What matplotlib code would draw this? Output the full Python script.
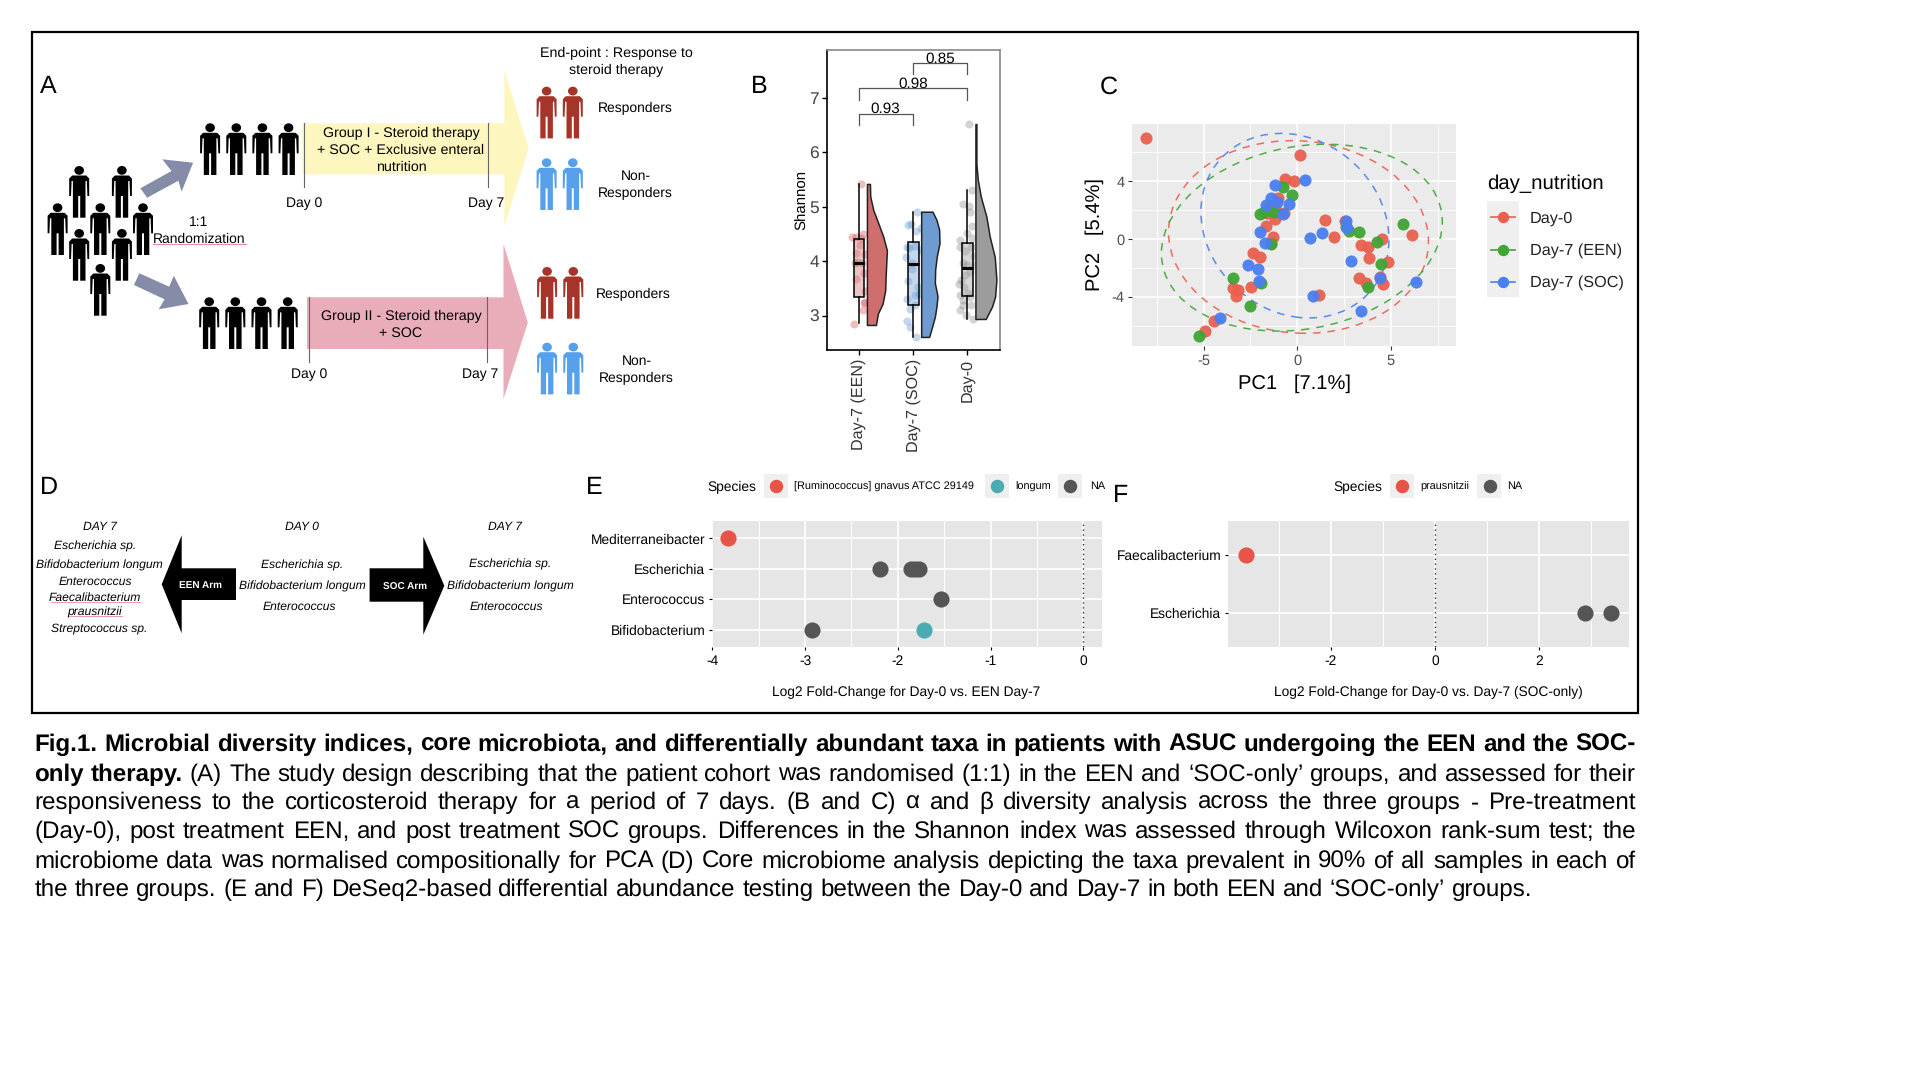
import matplotlib
matplotlib.use("Agg")
import matplotlib.pyplot as plt
from matplotlib.patches import Circle, Ellipse, Polygon, Rectangle
from matplotlib.transforms import Affine2D
import numpy as np

plt.rcParams['font.family'] = ['Liberation Sans', 'DejaVu Sans']
plt.rcParams['axes.unicode_minus'] = False
plt.rcParams['text.hinting'] = 'no_hinting'

# ---- panel B data (Shannon)
groups = ["Day-7 (EEN)", "Day-7 (SOC)", "Day-0"]
een_jit_x = [.04, -.12, -.06, .07, .03, -.06, .11, -.04, .05, -.06, .10, .12, .11, .08, -.09, .09, -.07, .02]
een_jit_y = [5.42, 4.45, 4.44, 4.50, 4.42, 4.16, 4.13, 3.99, 3.96, 3.67, 3.78, 3.45, 3.26, 3.10, 2.84, 3.24, 3.96, 4.30]
soc_jit_x = [.07, -.09, -.05, .14, .06, -.12, -.08, .03, .15, -.14, -.02, -.10, .09, -.12, .03, .11, -.06, .04, -.12, -.06, .06, -.03]
soc_jit_y = [4.91, 4.67, 4.68, 4.61, 4.55, 4.26, 4.24, 4.28, 4.21, 4.08, 3.85, 3.63, 3.53, 3.31, 3.38, 3.39, 3.12, 3.20, 2.90, 2.80, 2.61, 3.96]
day0_jit_x = [.02, .09, -.08, .03, .04, .08, -.01, .09, -.13, -.14, .07, -.04, .12, -.08, -.01, .13, .04, -.05, -.11, -.16,
              -.07, -.14, .01, -.09, .07, -.14, -.09, .10, -.02, .04]
day0_jit_y = [6.52, 5.31, 5.06, 5.02, 4.91, 4.65, 4.52, 4.42, 4.39, 4.26, 4.27, 4.18, 4.09, 3.96, 3.93, 3.94, 3.81, 3.75, 3.66, 3.58,
              3.53, 3.38, 3.41, 3.28, 3.20, 3.10, 3.20, 2.94, 3.01, 3.35]

een_vio_y = [5.42, 5.19, 4.94, 4.70, 4.45, 4.20, 3.96, 3.71, 3.47, 3.22, 3.04, 2.83]
een_vio_w = [.055, .061, .117, .209, .301, .368, .356, .344, .337, .288, .202, .166]
soc_vio_y = [4.91, 4.76, 4.58, 4.33, 4.09, 3.85, 3.60, 3.36, 3.17, 2.98, 2.80, 2.61]
soc_vio_w = [.209, .282, .331, .337, .288, .258, .252, .301, .282, .252, .202, .147]
day0_vio_y = [6.52, 5.79, 5.50, 5.19, 4.82, 4.45, 4.08, 3.66, 3.35, 3.17, 2.94]
day0_vio_w = [.018, .018, .043, .098, .202, .264, .356, .387, .362, .307, .190]

box_q1 = [3.35, 3.20, 3.37]
box_med = [3.96, 3.95, 3.87]
box_q3 = [4.40, 4.36, 4.33]
box_lo = [2.86, 2.61, 2.94]
box_hi = [5.42, 4.90, 5.30]

# ---- panel C data (PCA)
pc_red_x = [-8.07, .14, -.64, -.18, -1.04, -1.49, -1.18, -1.59, -.72, -1.16, -1.69, -1.27, -1.39, -2.35, -1.99, -3.45, -3.15, -3.29,
            -2.49, -4.46, -4.94, 1.47, 1.99, 2.57, 3.43, 3.80, 3.84, 4.52, 6.14, 4.84, 3.29, 3.67, 4.44, 4.56, 1.16]
pc_red_y = [6.98, 5.78, 4.15, 4.01, 2.81, 2.28, 2.24, 1.77, 1.77, 1.36, .90, .12, -.30, -.94, -1.27, -3.41, -3.53, -3.94,
            -3.29, -5.67, -6.36, 1.29, .16, 1.27, -.39, -.53, -1.34, -.02, .30, -1.61, -2.72, -3.02, -2.60, -3.09, -3.87]
pc_green_x = [-5.26, -2.53, -3.45, -1.93, -2.01, -1.79, -1.22, -.78, -.30, -1.39, 2.75, 3.31, 4.28, 4.48, 3.80, 5.66, 2.63]
pc_green_y = [-6.68, -4.65, -2.72, -3.04, 1.73, 1.89, 1.89, 3.57, 3.04, -.35, .58, .51, -.23, -1.73, -3.34, 1.04, .85]
pc_blue_x = [.42, -1.16, -1.39, -1.69, -.42, -.74, -1.06, -1.97, -1.71, .70, 1.35, 2.63, 2.67, 2.89, -2.63, -2.09, -2.03, .86, 3.43, -4.12, 6.37, 4.44]
pc_blue_y = [4.10, 3.71, 2.81, 2.35, 2.42, 1.73, 2.58, .51, -.25, .07, .39, 1.27, .74, -1.52, -1.80, -2.07, -2.88, -3.94, -4.95, -5.46, -3.00, -2.72]

# ---- panels E and F data
e_taxa = ["Bifidobacterium", "Enterococcus", "Escherichia", "Mediterraneibacter"]
e_gray_lfc = [-2.19, -1.86, -1.81, -1.77, -1.54, -2.93]
e_gray_pos = [3, 3, 3, 3, 2, 1]
e_red_lfc = [-3.83]
e_red_pos = [4]
e_teal_lfc = [-1.72]
e_teal_pos = [1]
f_taxa = ["Escherichia", "Faecalibacterium"]
f_gray_lfc = [2.88, 3.37]
f_gray_pos = [1, 1]
f_red_lfc = [-3.62]
f_red_pos = [2]

C_RED = "#E9604F"
C_GREEN = "#3FA535"
C_BLUE = "#4A7FF0"
C_DOT_RED = "#E85548"
C_DOT_TEAL = "#4BABB3"
C_DOT_GRAY = "#555555"
GGBG = "#E6E6E6"

W, H = 1920, 1080
fig = plt.figure(figsize=(19.2, 10.8), dpi=100)
bg = fig.add_axes([0, 0, 1, 1])
bg.set_xlim(0, W)
bg.set_ylim(H, 0)
bg.axis("off")


def panel(x0, y0, x1, y1):
    return fig.add_axes([x0 / W, 1 - y1 / H, (x1 - x0) / W, (y1 - y0) / H])


def label(x, y, s, size=10, **kw):
    kw.setdefault("ha", "center")
    kw.setdefault("va", "center")
    bg.text(x, y + 1, s, fontsize=size, **kw)


def person(cx, top, color):
    half = [(0, 9.5), (7, 9.5), (10, 12.5), (10, 30), (8.2, 30), (7.6, 15), (6.3, 15), (6.3, 51.7), (1, 51.7), (1, 30)]
    pts = half + [(-a, b) for a, b in half[::-1]]
    pts = [(cx + a, top + b) for a, b in pts]
    bg.add_patch(Polygon(pts, closed=True, fc=color, ec="none"))
    bg.add_patch(Ellipse((cx, top + 4.4), 9.6, 8.8, fc=color, ec="none"))


bg.add_patch(Rectangle((32, 32), 1606, 681, fc="none", ec="black", lw=1.6))

for x, y, s in [(48.5, 86, "A"), (759, 86, "B"), (1109, 86, "C"), (48.9, 487, "D"), (594.5, 487, "E"), (1121, 495, "F")]:
    label(x, y, s, size=18)

# ---- panel A schematic
bg.add_patch(Polygon([(302.4, 123.3), (504.4, 123.3), (504.4, 70.7), (528.7, 148.3), (504.4, 226.7), (504.4, 174.3), (302.4, 174.3)], fc="#FDF6BE", ec="none"))
bg.add_patch(Polygon([(307, 297.3), (503.5, 297.3), (503.5, 244), (527.8, 322.7), (503.5, 399), (503.5, 349), (307, 349)], fc="#E9ADBA", ec="none"))
bg.add_patch(Polygon([(140.3, 188.3), (171.5, 171), (162.3, 159.3), (193.1, 162.7), (181.6, 191.7), (178.4, 180.7), (147.2, 197.7)], fc="#858CA8", ec="none"))
bg.add_patch(Polygon([(139.4, 273.3), (169.2, 286.7), (173.8, 275.7), (188.5, 304), (158.7, 309.3), (164.6, 299.3), (133.9, 285)], fc="#858CA8", ec="none"))
for x, y0, y1 in [(303.7, 122.7, 186.7), (488.3, 122.7, 186.7), (309.3, 297.3, 361.7), (487, 297.3, 361.7)]:
    bg.plot([x, x], [y0, y1], color="#666666", lw=0.8)

for x in [210.1, 236.3, 262.4, 288.6]:
    person(x, 123.3, "black")
for x in [209.2, 235.3, 261.5, 287.7]:
    person(x, 297.3, "black")
for x, y in [(79.2, 166), (121.9, 166), (57.6, 203.3), (100.3, 203.3), (143, 203.3), (79.2, 229), (121.9, 229), (100.3, 264)]:
    person(x, y, "black")
for x in [546.6, 572.8]:
    person(x, 86.7, "#A63428")
    person(x, 158.3, "#56A0EC")
for x in [547.1, 573.3]:
    person(x, 267, "#A63428")
    person(x, 342.7, "#56A0EC")

label(616, 52.3, "End-point : Response to", size=10.3)
label(616, 69, "steroid therapy", size=10.3)
label(635.7, 107, "Responders")
label(635.7, 175.7, "Non-")
label(635.7, 192.3, "Responders")
label(633, 293.3, "Responders")
label(636.6, 360.7, "Non-")
label(636.6, 377.7, "Responders")
label(401, 132.3, "Group I - Steroid therapy", size=10.3)
label(401, 149, "+ SOC + Exclusive enteral", size=10.3)
label(401, 166.3, "nutrition", size=10.3)
label(401, 315.3, "Group II - Steroid therapy", size=10.3)
label(401, 332, "+ SOC", size=10.3)
label(303.7, 202.7, "Day 0")
label(486.5, 202.7, "Day 7")
label(309.3, 373.3, "Day 0")
label(480.5, 373.3, "Day 7")
label(199, 221.3, "1:1")
label(199.5, 238, "Randomization")
bg.plot([153, 246], [243.7, 243.7], color="#E58A9A", lw=0.7)

# ---- panel D schematic
bg.add_patch(Polygon([(161.7, 584.3), (181.7, 535.3), (181.7, 568.3), (236, 568.3), (236, 600), (181.7, 600), (181.7, 633.3)], fc="black", ec="none"))
bg.add_patch(Polygon([(369.6, 568.3), (423.3, 568.3), (423.3, 536.7), (444.3, 585.7), (423.3, 634.7), (423.3, 601.7), (369.6, 601.7)], fc="black", ec="none"))
label(200.2, 584.3, "EEN Arm", size=7.2, color="white", fontweight="bold")
label(404.8, 586, "SOC Arm", size=7.2, color="white", fontweight="bold")
for x, y, s in [(99.5, 526, "DAY 7"), (95, 545.7, "Escherichia sp."), (99.5, 564.3, "Bifidobacterium longum"), (95, 580.7, "Enterococcus"),
                (95, 597, "Faecalibacterium"), (95, 611, "prausnitzii"), (99.5, 627.7, "Streptococcus sp."),
                (302.3, 526, "DAY 0"), (302.3, 564.7, "Escherichia sp."), (302.3, 585, "Bifidobacterium longum"), (299, 606, "Enterococcus"),
                (505.4, 526, "DAY 7"), (509.8, 563.3, "Escherichia sp."), (510.2, 585, "Bifidobacterium longum"), (506.1, 606, "Enterococcus")]:
    label(x, y, s, size=8.7, style="italic")
bg.plot([51.4, 139.5], [602, 602], color="#E58A9A", lw=0.6)
bg.plot([69, 122], [616, 616], color="#E58A9A", lw=0.6)

# ---- panel B
axb = panel(826.7, 50, 1000, 350)
axb.set_xlim(0.405, 3.6)
axb.set_ylim(2.37, 7.88)
pos = [1, 2, 3]
jit_x = [een_jit_x, soc_jit_x, day0_jit_x]
jit_y = [een_jit_y, soc_jit_y, day0_jit_y]
vio_y = [een_vio_y, soc_vio_y, day0_vio_y]
vio_w = [een_vio_w, soc_vio_w, day0_vio_w]
jit_col = ["#C93A3A", "#4A85C8", "#777777"]
vio_col = ["#CE6F6E", "#6E9BD0", "#9C9C9C"]
for i in range(3):
    axb.scatter(pos[i] + np.array(jit_x[i]), jit_y[i], s=34, color=jit_col[i], alpha=0.32, lw=0, zorder=2)
    left = pos[i] + 0.147
    axb.fill_betweenx(vio_y[i], left, left + np.array(vio_w[i]), facecolor=vio_col[i], edgecolor="#222222", lw=1.1, zorder=3)
stats = []
for i in range(3):
    stats.append(dict(med=box_med[i], q1=box_q1[i], q3=box_q3[i], whislo=box_lo[i], whishi=box_hi[i], fliers=[]))
res = axb.bxp(stats, positions=pos, widths=0.196, patch_artist=True, showcaps=False, showfliers=False, manage_ticks=False,
              boxprops=dict(edgecolor="black", lw=1.1), medianprops=dict(color="black", lw=2.2), whiskerprops=dict(color="black", lw=1.1), zorder=4)
for i, b in enumerate(res["boxes"]):
    b.set_facecolor(matplotlib.colors.to_rgba(vio_col[i], 0.4))
for a, b, top, drop, s in [(1, 2, 6.71, 6.51, "0.93"), (1, 3, 7.18, 6.97, "0.98"), (2, 3, 7.64, 7.44, "0.85")]:
    axb.plot([a, a, b, b], [drop, top, top, drop], color="#555555", lw=0.9, zorder=5)
    axb.text((a + b) / 2 + (-0.02 if s == "0.93" else 0) + (-0.0 if s != "0.85" else 0.0), top - 0.05, s, ha="center", va="bottom", fontsize=11)
axb.set_xticks(pos)
axb.set_xticklabels(groups, rotation=90, fontsize=11.6, color="#333333")
axb.set_yticks([3, 4, 5, 6, 7])
axb.tick_params(axis="y", labelsize=12.5, labelcolor="#444444", length=3.5, width=1, pad=2)
axb.tick_params(axis="x", length=3.5, width=1, pad=3)
axb.set_ylabel("Shannon", fontsize=10.8, labelpad=0)
for s in ["top", "right"]:
    axb.spines[s].set_color("#888888")
    axb.spines[s].set_linewidth(1.2)
for s in ["left", "bottom"]:
    axb.spines[s].set_linewidth(1.2)

# ---- panel C
axc = panel(1132, 124, 1456, 346)
axc.set_xlim(-8.82, 8.48)
axc.set_ylim(-7.4, 7.95)
axc.set_facecolor("#EBEBEB")
axc.set_xticks([-5, 0, 5])
axc.set_yticks([-4, 0, 4])
axc.set_xticks([-7.5, -2.5, 2.5, 7.5], minor=True)
axc.set_yticks([-6, -2, 2, 6], minor=True)
axc.grid(which="major", color="white", lw=1.1)
axc.grid(which="minor", color="white", lw=0.6)
axc.set_axisbelow(True)
axc.tick_params(which="minor", length=0)
axc.tick_params(axis="both", which="major", labelsize=10.5, labelcolor="#4D4D4D", color="#333333", length=3, width=0.8, pad=2.5)
for s in axc.spines.values():
    s.set_visible(False)
axc.set_xlabel("PC1   [7.1%]", fontsize=14.5, labelpad=5)
axc.set_ylabel("PC2   [5.4%]", fontsize=14.5, labelpad=5)
# centre x, centre y, half widths and skew of the dashed confidence ellipses
for col, cx, cy, a, b, p in [(C_RED, 0.07, 0.14, 6.94, 6.66, -0.05), (C_GREEN, 0.25, 0.09, 7.5, 6.46, 0.17), (C_BLUE, -0.12, 0.92, 5.02, 6.38, -0.15)]:
    m = Affine2D(np.array([[a, 0, cx], [b * np.sin(p), b * np.cos(p), cy], [0, 0, 1]]))
    axc.add_patch(Circle((0, 0), 1, fill=False, ec=col, lw=1.1, ls=(0, (5, 4.5)), transform=m + axc.transData, alpha=0.9))
for xs, ys, col in [(pc_red_x, pc_red_y, C_RED), (pc_green_x, pc_green_y, C_GREEN), (pc_blue_x, pc_blue_y, C_BLUE)]:
    axc.scatter(xs, ys, s=76, color=col, lw=0, alpha=0.95, zorder=3, clip_on=False)

bg.add_patch(Rectangle((1487, 201), 31.5, 96, fc="#EFEFEF", ec="none"))
label(1487, 183, "day_nutrition", size=14.7, ha="left")
for y, s, col in [(217.3, "Day-0", C_RED), (249.7, "Day-7 (EEN)", C_GREEN), (281.7, "Day-7 (SOC)", C_BLUE)]:
    bg.plot([1490.6, 1514.7], [y, y], color=col, lw=1.2)
    bg.plot([1502.7], [y], "o", color=col, ms=8.2, mew=0)
    label(1529.7, y, s, size=11.7, ha="left", color="#222222")


def lfc_axes(rect, xlim, ylim, xticks, minor, names):
    ax = panel(*rect)
    ax.set_xlim(*xlim)
    ax.set_ylim(*ylim)
    ax.set_facecolor(GGBG)
    ax.set_xticks(xticks)
    ax.set_xticks(minor, minor=True)
    ax.set_yticks(range(1, len(names) + 1))
    ax.set_yticklabels(names)
    ax.grid(which="major", color="white", lw=1.2)
    ax.grid(which="minor", axis="x", color="white", lw=0.7)
    ax.set_axisbelow(True)
    ax.tick_params(which="minor", length=0)
    ax.tick_params(which="major", labelsize=9.9, length=2.5, width=0.8, pad=2.5)
    ax.tick_params(axis="x", pad=3.5)
    for s in ax.spines.values():
        s.set_visible(False)
    ax.axvline(0, color="#333333", lw=1, ls=(0, (1, 2.5)), zorder=2)
    return ax


# ---- panel E
axe = lfc_axes((712.2, 521, 1102, 646.7), (-4, 0.2), (0.44, 4.57), [-4, -3, -2, -1, 0], [-3.5, -2.5, -1.5, -0.5], e_taxa)
axe.scatter(e_gray_lfc, e_gray_pos, s=135, color=C_DOT_GRAY, lw=0, zorder=3)
axe.scatter(e_red_lfc, e_red_pos, s=135, color=C_DOT_RED, lw=0, zorder=3)
axe.scatter(e_teal_lfc, e_teal_pos, s=135, color=C_DOT_TEAL, lw=0, zorder=3)
label(906, 691.5, "Log2 Fold-Change for Day-0 vs. EEN Day-7", size=9.9)

label(707.8, 486, "Species", size=9.9, ha="left")
for x0, cx, col, tx, s in [(763.5, 775.6, C_DOT_RED, 793.8, "[Ruminococcus] gnavus ATCC 29149"), (985, 997, C_DOT_TEAL, 1015.6, "longum"), (1058.3, 1070.4, C_DOT_GRAY, 1090, "NA")]:
    bg.add_patch(Rectangle((x0, 474), 24, 24, fc="#EFEFEF", ec="none"))
    bg.plot([cx], [486], "o", color=col, ms=9.7, mew=0)
    label(tx, 485.5, s, size=7.8, ha="left")

# ---- panel F
axf = lfc_axes((1228.2, 521, 1629, 646.7), (-3.97, 3.72), (0.42, 2.586), [-2, 0, 2], [-3, -1, 1, 3], f_taxa)
axf.scatter(f_gray_lfc, f_gray_pos, s=135, color=C_DOT_GRAY, lw=0, zorder=3)
axf.scatter(f_red_lfc, f_red_pos, s=135, color=C_DOT_RED, lw=0, zorder=3)
label(1428.5, 691.5, "Log2 Fold-Change for Day-0 vs. Day-7 (SOC-only)", size=9.9)

label(1333.8, 486, "Species", size=9.9, ha="left")
for x0, cx, col, tx, s in [(1390, 1401.8, C_DOT_RED, 1420.4, "prausnitzii"), (1477, 1489.5, C_DOT_GRAY, 1507.4, "NA")]:
    bg.add_patch(Rectangle((x0, 474), 24, 24, fc="#EFEFEF", ec="none"))
    bg.plot([cx], [486], "o", color=col, ms=9.7, mew=0)
    label(tx, 485.5, s, size=7.8, ha="left")

# ---- caption, justified by hand
cap_lines = [
    ("Fig.1. Microbial diversity indices, core microbiota, and differentially abundant taxa in patients with ASUC undergoing the EEN and the SOC-", ""),
    ("only therapy.", "(A) The study design describing that the patient cohort was randomised (1:1) in the EEN and ‘SOC-only’ groups, and assessed for their"),
    ("", "responsiveness to the corticosteroid therapy for a period of 7 days. (B and C) α and β diversity analysis across the three groups - Pre-treatment"),
    ("", "(Day-0), post treatment EEN, and post treatment SOC groups. Differences in the Shannon index was assessed through Wilcoxon rank-sum test; the"),
    ("", "microbiome data was normalised compositionally for PCA (D) Core microbiome analysis depicting the taxa prevalent in 90% of all samples in each of"),
    ("", "the three groups. (E and F) DeSeq2-based differential abundance testing between the Day-0 and Day-7 in both EEN and ‘SOC-only’ groups."),
]
cap_y = [742.5, 772.2, 800.5, 829.5, 859, 887.5]
CAP_L, CAP_R = 34.3, 1636
CAP_SIZE = 17.4
renderer = fig.canvas.get_renderer()


def word_width(word, weight):
    t = bg.text(0, 0, word, fontsize=CAP_SIZE, fontweight=weight)
    w = t.get_window_extent(renderer).width
    t.remove()
    return w


space = word_width("a a", "normal") - word_width("aa", "normal")
for k, (bold, plain) in enumerate(cap_lines):
    words = [(w, "bold") for w in bold.split()] + [(w, "normal") for w in plain.split()]
    widths = [word_width(w, wt) for w, wt in words]
    gap = (CAP_R - CAP_L - sum(widths)) / (len(words) - 1)
    if k == len(cap_lines) - 1:
        gap = space
    x = CAP_L
    for (w, wt), ww in zip(words, widths):
        bg.text(x, cap_y[k], w, fontsize=CAP_SIZE, fontweight=wt, ha="left", va="center_baseline", color="black")
        x += ww + gap

fig.savefig("out.png", dpi=100)
